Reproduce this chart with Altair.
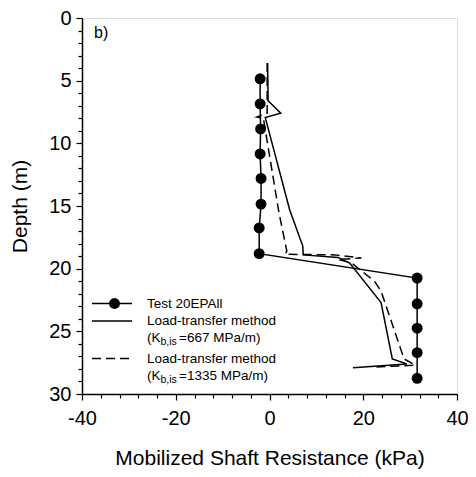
import altair as alt
import pandas as pd

# Measured test data (Test 20EPAll)
test_depth = [4.85, 6.85, 8.85, 10.85, 12.8, 14.85, 16.75, 18.8, 20.75, 22.8, 24.75, 26.7, 28.75]
test_shaft = [-2.0, -2.0, -1.9, -2.0, -1.8, -1.8, -2.2, -2.2, 31.5, 31.5, 31.5, 31.5, 31.5]

# Load-transfer method, K_b,is = 667 MPa/m
lt667_depth = [3.6, 6.6, 7.6, 7.95, 15.3, 18.2, 18.9, 19.1, 19.55, 22.7, 27.2, 27.6, 27.9]
lt667_shaft = [-0.4, -0.3, 2.4, -0.9, 4.3, 7.1, 7.2, 14.6, 17.1, 23.8, 26.2, 29.3, 17.8]

# Load-transfer method, K_b,is = 1335 MPa/m
lt1335_depth = [3.6, 7.6, 7.9, 8.0, 15.5, 18.6, 18.85, 18.9, 19.15, 19.26, 19.55, 21.0, 21.8, 27.2, 27.7, 27.85]
lt1335_shaft = [-0.5, -0.5, -2.7, -1.3, 2.0, 3.7, 3.3, 14.0, 19.6, 14.6, 17.5, 22.4, 23.8, 28.7, 31.1, 22.4]

x_ticks = list(range(-40, 41, 4))
y_ticks = list(range(0, 31, 1))

FONT = "Liberation Sans"

test_df = pd.DataFrame({"shaft": test_shaft, "depth": test_depth, "idx": range(len(test_depth))})
df667 = pd.DataFrame({"shaft": lt667_shaft, "depth": lt667_depth, "idx": range(len(lt667_depth))})
df1335 = pd.DataFrame({"shaft": lt1335_shaft, "depth": lt1335_depth, "idx": range(len(lt1335_depth))})

common_axis = dict(grid=False, tickCount=200, labelOverlap=False, labelFont=FONT, titleFont=FONT,
                   labelFontSize=20, titleFontSize=21, labelColor="black", titleColor="black",
                   titleFontWeight="normal", domainColor="black", tickColor="black",
                   domainWidth=1.5, tickWidth=1.2, labelFlush=False)

xenc = alt.X("shaft:Q", scale=alt.Scale(domain=[-40, 40], nice=False, zero=False),
             axis=alt.Axis(values=x_ticks,
                           labelExpr="datum.value % 20 == 0 ? toString(datum.value) : ''",
                           title="Mobilized Shaft Resistance (kPa)",
                           labelPadding=8, titlePadding=19,
                           tickSize={"condition": {"test": "datum.value % 20 == 0", "value": 6}, "value": 4},
                           **common_axis))
yenc = alt.Y("depth:Q", scale=alt.Scale(domain=[0, 30], nice=False, zero=False, reverse=True),
             axis=alt.Axis(values=y_ticks,
                           labelExpr="datum.value % 5 == 0 ? toString(datum.value) : ''",
                           title="Depth (m)", labelPadding=5, titlePadding=18,
                           tickSize={"condition": {"test": "datum.value % 5 == 0", "value": 6}, "value": 4},
                           **common_axis))

test_line = alt.Chart(test_df).mark_line(color="black", strokeWidth=1.5).encode(x=xenc, y=yenc, order="idx:Q")
test_pts = alt.Chart(test_df).mark_circle(color="black", size=120, opacity=1).encode(x="shaft:Q", y="depth:Q")
line667 = alt.Chart(df667).mark_line(color="black", strokeWidth=1.5).encode(x="shaft:Q", y="depth:Q", order="idx:Q")
line1335 = alt.Chart(df1335).mark_line(color="black", strokeWidth=1.5, strokeDash=[9, 5]).encode(
    x="shaft:Q", y="depth:Q", order="idx:Q")

one = pd.DataFrame({"a": [0]})

def rule(y, dash=None):
    kw = dict(color="black", strokeWidth=1.5)
    if dash:
        kw["strokeDash"] = dash
    return alt.Chart(one).mark_rule(**kw).encode(x=alt.value(10), x2=alt.value(50), y=alt.value(y))

def txt(s, x, y, size=13.5):
    return alt.Chart(one).mark_text(text=s, align="left", baseline="middle", font=FONT,
                                    fontSize=size, color="black").encode(x=alt.value(x), y=alt.value(y))

legend = [
    rule(285.5),
    alt.Chart(one).mark_circle(color="black", size=120, opacity=1).encode(x=alt.value(32.5), y=alt.value(285.5)),
    txt("Test 20EPAll", 65, 285.5),
    rule(303),
    txt("Load-transfer method", 65, 303),
    txt("(K", 65, 320),
    txt("b,is", 78.5, 324, 10.5),
    txt("=667 MPa/m)", 97, 320),
    rule(340.5, [9, 5]),
    txt("Load-transfer method", 65, 340.5),
    txt("(K", 65, 357.5),
    txt("b,is", 78.5, 361.5, 10.5),
    txt("=1335 MPa/m)", 97, 357.5),
    txt("b)", 12, 15, 16),
]

chart = alt.layer(test_line, test_pts, line667, line1335, *legend).properties(
    width=375, height=376,
    autosize=alt.AutoSizeParams(type="none"),
    padding={"left": 74, "top": 10, "right": 11, "bottom": 75},
).configure_view(stroke="black", strokeWidth=1.5).configure(background="white")

chart.save("out.html", embed_options={"renderer": "svg", "actions": False})
